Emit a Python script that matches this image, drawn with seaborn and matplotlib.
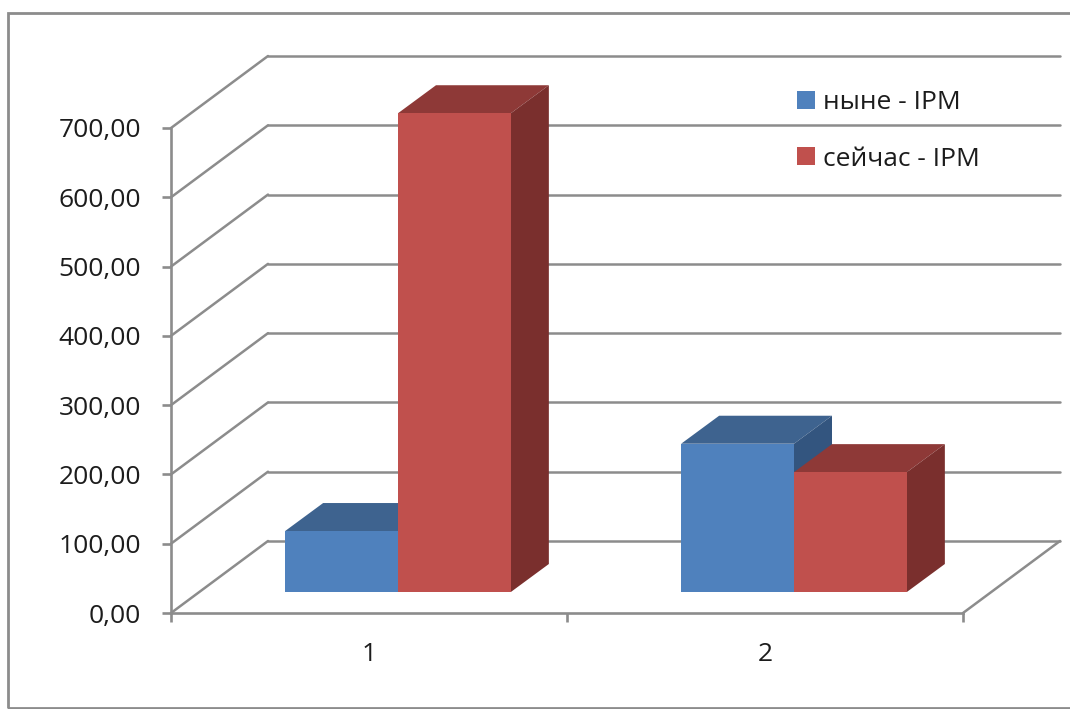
import pandas as pd
import seaborn as sns
import matplotlib.pyplot as plt
from matplotlib.patches import Polygon, Rectangle
from matplotlib.transforms import Affine2D

categories = ["1", "2"]
series_names = ["ныне - IPM", "сейчас - IPM"]
now_values = [88, 214]
current_values = [691, 173]
y_ticks = [0, 100, 200, 300, 400, 500, 600, 700]
y_labels = ["0,00", "100,00", "200,00", "300,00", "400,00", "500,00", "600,00", "700,00"]

W, H = 1070, 709
LINE = "#8c8c8c"
TEXT = "#1c1c1c"
colors = {series_names[0]: "#4f81bd", series_names[1]: "#c0504d"}
top_colors = {series_names[0]: "#3e638f", series_names[1]: "#8e3937"}
side_colors = {series_names[0]: "#33557f", series_names[1]: "#7a2f2d"}

sns.set_theme(style="white")
plt.rcParams["font.family"] = ["Open Sans", "DejaVu Sans"]

df = pd.DataFrame({
    "cat": categories * 2,
    "series": [series_names[0]] * 2 + [series_names[1]] * 2,
    "value": now_values + current_values,
})

fig = plt.figure(figsize=(W / 100, H / 100), dpi=100, facecolor="white")
ax = fig.add_axes([171 / W, 1 - 613 / H, (963 - 171) / W, (613 - 128) / H])
ax.patch.set_alpha(0)

sns.barplot(data=df, x="cat", y="value", hue="series", palette=colors, hue_order=series_names,
            order=categories, width=0.57, gap=0, saturation=1, linewidth=0, ax=ax)

ax.set_xlim(-0.5, 1.5)
ax.set_ylim(0, 700)
ax.set_xlabel("")
ax.set_ylabel("")

# pixel sizes of the fake 3d, turned into data units
x_unit = (963 - 171) / 2
y_unit = (613 - 128) / 700
wall_dx, wall_dy = 97 / x_unit, 72 / y_unit
bar_dx, bar_dy = 29 / x_unit, 21 / y_unit
depth_dx, depth_dy = 38 / x_unit, 28 / y_unit

# side wall, back wall and floor lines
for v in y_ticks:
    ax.plot([-0.5, -0.5 + wall_dx], [v, v + wall_dy], color=LINE, lw=1.8, clip_on=False, zorder=1)
    ax.plot([-0.5 + wall_dx, 1.5 + wall_dx], [v + wall_dy, v + wall_dy], color=LINE, lw=1.8,
            clip_on=False, zorder=1)
ax.plot([1.5, 1.5 + wall_dx], [0, wall_dy], color=LINE, lw=1.8, clip_on=False, zorder=1)

# shift the bars onto the floor and give them a top and a side
shift = Affine2D().translate(bar_dx, bar_dy) + ax.transData
for i, container in enumerate(ax.containers):
    name = series_names[i]
    for bar in container:
        x0, w, h = bar.get_x(), bar.get_width(), bar.get_height()
        x1 = x0 + w
        top = Polygon([(x0, h), (x1, h), (x1 + depth_dx, h + depth_dy), (x0 + depth_dx, h + depth_dy)],
                      facecolor=top_colors[name], edgecolor="none", transform=shift,
                      clip_on=False, zorder=3 + 2 * i)
        side = Polygon([(x1, 0), (x1 + depth_dx, depth_dy), (x1 + depth_dx, h + depth_dy), (x1, h)],
                       facecolor=side_colors[name], edgecolor="none", transform=shift,
                       clip_on=False, zorder=3 + 2 * i)
        ax.add_patch(top)
        ax.add_patch(side)
        bar.set_transform(shift)
        bar.set_clip_on(False)
        bar.set_zorder(4 + 2 * i)

ax.set_yticks(y_ticks)
ax.set_yticklabels(y_labels)
ax.set_xticks([-0.5, 0.5, 1.5], minor=True)
ax.tick_params(axis="y", left=True, length=6.5, width=1.9, color=LINE, pad=15, labelsize=19, labelcolor=TEXT)
ax.tick_params(axis="x", which="major", length=0, pad=21, labelsize=19, labelcolor=TEXT)
ax.tick_params(axis="x", which="minor", bottom=True, length=6.5, width=1.9, color=LINE)

sns.despine(ax=ax)
for s in ["left", "bottom"]:
    ax.spines[s].set_color(LINE)
    ax.spines[s].set_linewidth(1.9)

sns.move_legend(ax, "upper left", bbox_to_anchor=(797 / W, 1 - 90 / H), bbox_transform=fig.transFigure,
                frameon=False, title=None, fontsize=19, labelcolor=TEXT, borderpad=0, borderaxespad=0,
                handlelength=0.68, handleheight=0.68, handletextpad=0.32, labelspacing=1.2)

# chart frame, its right edge falls outside the picture
fig.add_artist(Rectangle((8 / W, 1 - 708 / H), 1.1, (708 - 12.5) / H, transform=fig.transFigure,
                         facecolor="none", edgecolor=LINE, lw=2))

fig.savefig("out.png", dpi=100)
